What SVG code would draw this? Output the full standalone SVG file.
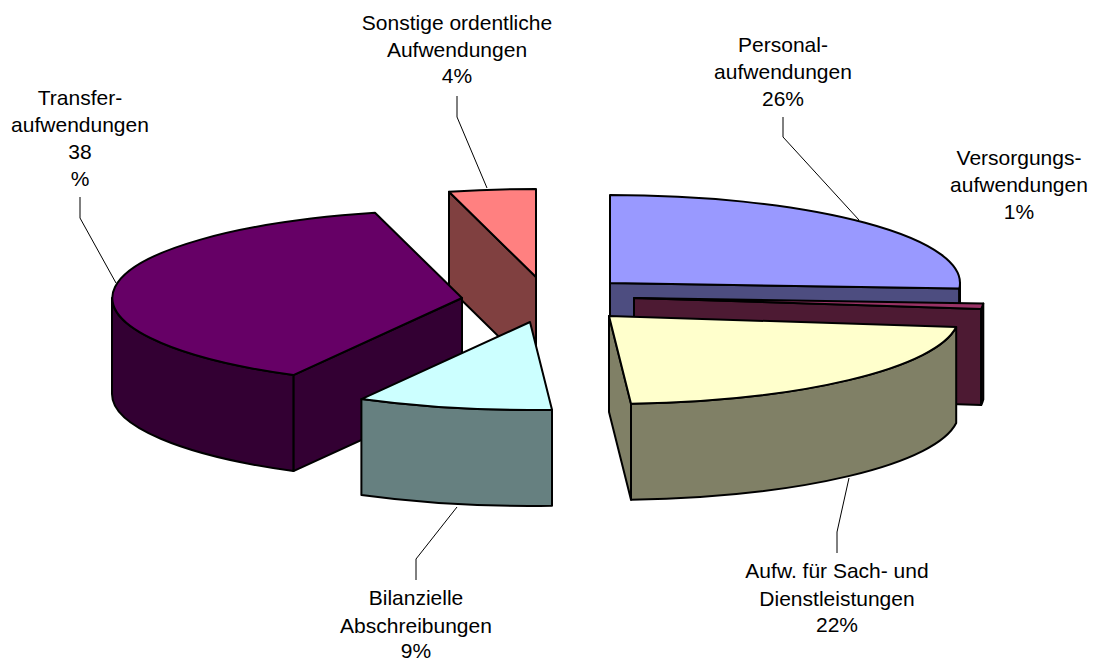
<svg xmlns="http://www.w3.org/2000/svg" width="1095" height="663" viewBox="0 0 1095 663">
<style>
  .s { stroke: #000; stroke-width: 2; stroke-linejoin: round; }
  .lbl { font-family: "Liberation Sans", Arial, sans-serif; font-size: 21px; fill: #000; text-anchor: middle; }
  .lead { stroke: #000; stroke-width: 1; fill: none; }
</style>
<rect width="1095" height="663" fill="#fff"/>

<g id="slice-sonstige">
  <path class="s" fill="#804040" d="M536,277 L449,191.8 L449,287.8 L536,373 Z"/>
  <path class="s" fill="#FF8080" d="M536,277 L449,191.8 A350,88 0 0 1 536,189 Z"/>
</g>

<g id="slice-personal">
  <path class="s" fill="#4D4D80" d="M610,283 L959.3,288.5 L959.3,384.5 L610,379 Z"/>
  <path class="s" fill="#4D4D80" d="M960,283 A350,88 0 0 1 959.3,288.5 L959.3,384.5 A350,88 0 0 0 960,379 Z"/>
  <path class="s" fill="#9999FF" d="M610,283 L610,195 A350,88 0 0 1 959.3,288.5 Z"/>
</g>

<g id="slice-transfer">
  <path class="s" fill="#330033" d="M462,298 L293.4,375.1 L293.4,471.1 L462,394 Z"/>
  <path class="s" fill="#330033" d="M293.4,375.1 A350,88 0 0 1 112,298 L112,394 A350,88 0 0 0 293.4,471.1 Z"/>
  <path class="s" fill="#660066" d="M462,298 L293.4,375.1 A350,88 0 0 1 375,212.8 Z"/>
</g>

<g id="slice-versorgung">
  <path class="s" fill="#4D1A33" d="M634,298 L981.2,309 L981.2,405 L634,394 Z"/>
  <path class="s" fill="#4D1A33" d="M983.3,303.5 A350,88 0 0 1 981.2,309 L981.2,405 A350,88 0 0 0 983.3,399.5 Z"/>
  <path class="s" fill="#993366" d="M634,298 L983.3,303.5 A350,88 0 0 1 981.2,309 Z"/>
</g>

<g id="slice-sach">
  <path class="s" fill="#808066" d="M609,316 L631,403.8 L631,499.8 L609,412 Z"/>
  <path class="s" fill="#808066" d="M956.2,327 A350,88 0 0 1 631,403.8 L631,499.8 A350,88 0 0 0 956.2,423 Z"/>
  <path class="s" fill="#FFFFCC" d="M609,316 L956.2,327 A350,88 0 0 1 631,403.8 Z"/>
</g>

<g id="slice-bilanz">
  <path class="s" fill="#668080" d="M552,409.8 A350,88 0 0 1 361.4,399.1 L361.4,495.1 A350,88 0 0 0 552,505.8 Z"/>
  <path class="s" fill="#CCFFFF" d="M530,322 L552,409.8 A350,88 0 0 1 361.4,399.1 Z"/>
</g>

<g id="connectors">
  <polyline class="lead" points="80,197 80,218 116,283"/>
  <polyline class="lead" points="457,96 457,117 487,188"/>
  <polyline class="lead" points="783,117 783,137 859,220"/>
  <polyline class="lead" points="849,478 837,532 837,553"/>
  <polyline class="lead" points="457,507 416,559 416,580"/>
</g>

<g id="label-transfer">
  <text class="lbl" x="80" y="105">Transfer-</text>
  <text class="lbl" x="80" y="132">aufwendungen</text>
  <text class="lbl" x="80" y="159">38</text>
  <text class="lbl" x="80" y="186">%</text>
</g>
<g id="label-sonstige">
  <text class="lbl" x="457" y="30">Sonstige ordentliche</text>
  <text class="lbl" x="457" y="57">Aufwendungen</text>
  <text class="lbl" x="457" y="83">4%</text>
</g>
<g id="label-personal">
  <text class="lbl" x="783" y="52">Personal-</text>
  <text class="lbl" x="783" y="79">aufwendungen</text>
  <text class="lbl" x="783" y="106">26%</text>
</g>
<g id="label-versorgung">
  <text class="lbl" x="1019" y="165">Versorgungs-</text>
  <text class="lbl" x="1019" y="192">aufwendungen</text>
  <text class="lbl" x="1019" y="219">1%</text>
</g>
<g id="label-sach">
  <text class="lbl" x="837" y="578">Aufw. für Sach- und</text>
  <text class="lbl" x="837" y="606">Dienstleistungen</text>
  <text class="lbl" x="837" y="632">22%</text>
</g>
<g id="label-bilanz">
  <text class="lbl" x="416" y="605">Bilanzielle</text>
  <text class="lbl" x="416" y="633">Abschreibungen</text>
  <text class="lbl" x="416" y="658">9%</text>
</g>
</svg>
